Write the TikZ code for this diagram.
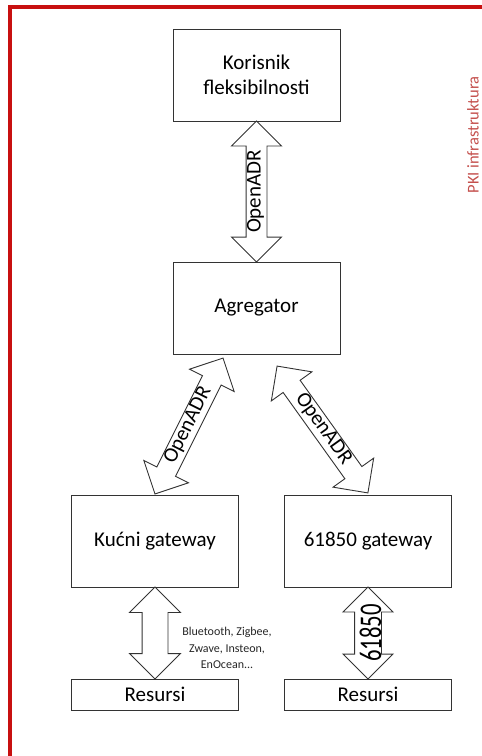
\documentclass[tikz,border=0pt]{standalone}
\usepackage{fontspec}
\setmainfont{Carlito}
\usetikzlibrary{shapes.arrows, calc}
\definecolor{framered}{RGB}{200,16,16}
\definecolor{pkired}{RGB}{196,80,77}

\begin{document}
\begin{tikzpicture}[x=1pt, y=-1pt, font=\fontsize{21}{25}\selectfont,
  box/.style={draw=black!80, line width=0.9pt, minimum width=167pt, minimum height=92pt,
    align=center, inner sep=0pt},
  resbox/.style={box, minimum height=31pt},
  fatarrow/.style={double arrow, draw=black!80, line width=0.9pt, double arrow tip angle=90,
    inner xsep=0pt, inner ysep=0pt, outer sep=0pt}]

\useasboundingbox (0,0) rectangle (482,756);

% Red frame
\draw[framered, line width=3.5pt] (10,756) -- (10,7) -- (482,7);

% PKI label
\node[rotate=90, text=pkired, font=\fontsize{16.5}{20}\selectfont] (pki) at (473,135) {PKI infrastruktura};

% Boxes
\node[box] (kor) at (256.5,75) {Korisnik\\fleksibilnosti};
\node[box] (agr) at (256.5,308) {Agregator};
\node[box] (kuc) at (155,541) {Kućni gateway};
\node[box] (gw) at (368,541) {61850 gateway};
\node[resbox] (res1) at (155,694.5) {Resursi};
\node[resbox] (res2) at (368,694.5) {Resursi};

% OpenADR: korisnik - agregator
\node[fatarrow, rotate=90, minimum height=141pt, double arrow head extend=14.5pt,
  text height=14pt, text depth=6pt] (a1) at ($(kor.south)!0.5!(agr.north)$) {OpenADR};

% OpenADR: agregator - gateways
\coordinate (l1) at (223,358);
\coordinate (l2) at (155,494);
\node[fatarrow, rotate=63.4, minimum height=152pt, double arrow head extend=14.5pt,
  text height=14pt, text depth=6pt] (a2) at ($(l1)!0.5!(l2)$) {OpenADR};
\coordinate (r1) at (277,366);
\coordinate (r2) at (368,493);
\node[fatarrow, rotate=-54.4, minimum height=156pt, double arrow head extend=14.5pt,
  text height=14pt, text depth=6pt] (a3) at ($(r1)!0.5!(r2)$) {OpenADR};

% Gateways - resursi
\node[fatarrow, rotate=90, minimum height=92pt, double arrow head extend=12.5pt,
  text height=25pt, text depth=0pt] (a4) at ($(kuc.south)!0.5!(res1.north)$) {};
\node[fatarrow, rotate=90, minimum height=92pt, double arrow head extend=11.5pt,
  text height=26pt, text depth=0pt] (a5) at ($(gw.south)!0.5!(res2.north)$) {\scalebox{1.08}[1.5]{61850}};

% Protocols
\node[align=center, text=black!85, font=\fontsize{12}{16.5}\selectfont] (proto) at (227,648)
  {Bluetooth, Zigbee,\\Zwave, Insteon,\\EnOcean...};

\end{tikzpicture}
\end{document}
